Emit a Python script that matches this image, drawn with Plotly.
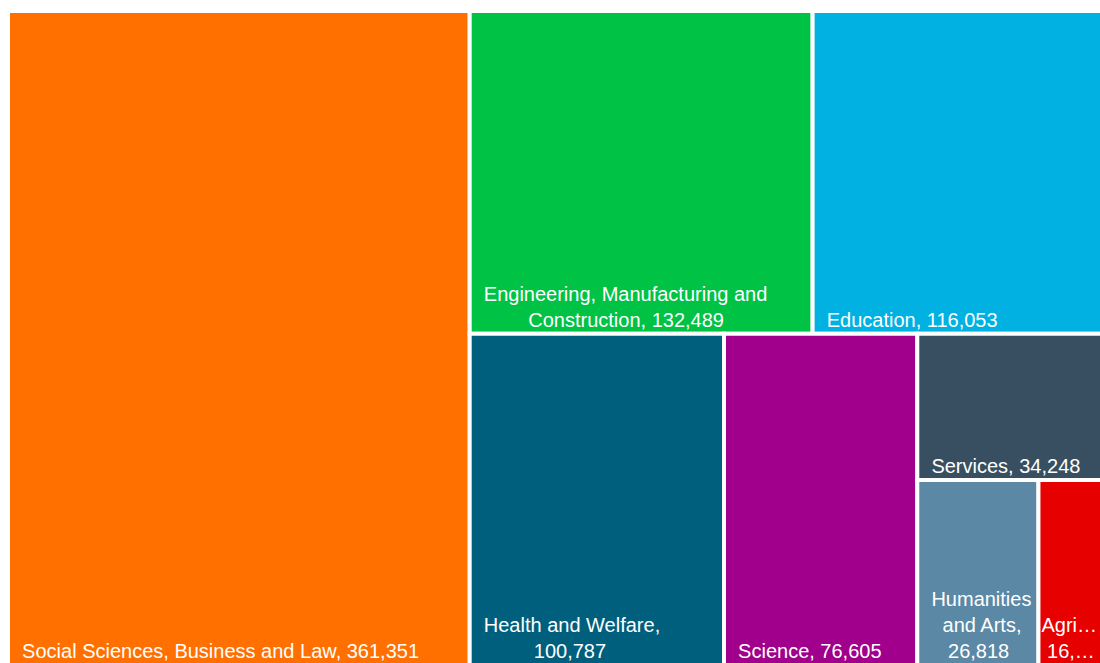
import plotly.graph_objects as go

# Graduates by broad field of study
fields = [
    "Social Sciences, Business and Law",
    "Engineering, Manufacturing and Construction",
    "Education",
    "Health and Welfare",
    "Science",
    "Services",
    "Humanities and Arts",
    "Agriculture",
]
graduates = [361351, 132489, 116053, 100787, 76605, 34248, 26818, 16500]

# Tile captions as displayed (long names wrapped, narrow tile truncated);
# non-breaking spaces give an inner left margin and centre the wrapped lines
NB = "\u00a0"
captions = [
    NB * 2 + "Social Sciences, Business and Law, 361,351",
    NB * 2 + "Engineering, Manufacturing and<br>" + NB * 10 + "Construction, 132,489",
    NB * 2 + "Education, 116,053",
    NB * 2 + "Health and Welfare,<br>" + NB * 11 + "100,787",
    NB * 2 + "Science, 76,605",
    NB * 2 + "Services, 34,248",
    NB * 2 + "Humanities<br>" + NB * 4 + "and Arts,<br>" + NB * 5 + "26,818",
    "Agri…<br>" + NB + "16,…",
]
colors = ["#FF7000", "#00C244", "#00B1E1", "#005F7C",
          "#A0008B", "#374F60", "#5B88A5", "#E60000"]

fig = go.Figure(
    go.Treemap(
        labels=fields,
        parents=[""] * len(fields),
        values=graduates,
        text=captions,
        texttemplate="%{text}",
        textposition="bottom left",
        textfont=dict(family="Arial", size=20, color="white"),
        marker=dict(
            colors=colors,
            line=dict(color="white", width=4),
            pad=dict(t=0, l=0, r=0, b=0),
        ),
        tiling=dict(packing="squarify", squarifyratio=1, pad=0),
        pathbar=dict(visible=False),
        sort=True,
        hoverinfo="label+value",
    )
)

# The treemap runs slightly past the right and bottom edges of the page
fig.update_layout(
    width=1113,
    height=665,
    margin=dict(l=8, r=0, t=11, b=0),
    paper_bgcolor="white",
    uniformtext=dict(minsize=20, mode="show"),
)

fig.write_html(
    "out.html",
    post_script="document.documentElement.style.overflow='hidden';"
                "document.body.style.overflow='hidden';"
                "document.body.style.margin='0';",
)
